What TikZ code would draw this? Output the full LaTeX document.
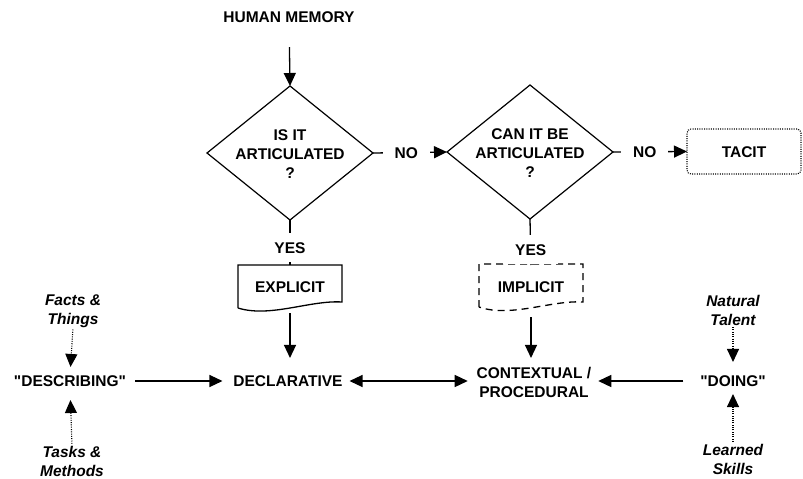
\documentclass[tikz,border=0pt]{standalone}
\usepackage{fontspec}
\setmainfont{Liberation Sans}
\usetikzlibrary{arrows.meta,shapes.geometric,calc}
\begin{document}
\begin{tikzpicture}[x=1pt,y=-1pt,
  every node/.style={font=\fontsize{15.5}{19}\selectfont\bfseries, inner sep=0pt, outer sep=0pt},
  txt/.style={text height=11.1pt, text depth=0pt},
  itl/.style={align=center, font=\fontsize{15.5}{19}\selectfont\bfseries\itshape},
  dec/.style={diamond, draw, line width=1.2pt, minimum width=166pt, minimum height=134pt},
  lbl/.style={fill=white, text height=11.1pt, text depth=0pt, inner xsep=12pt, inner ysep=9pt},
  ln/.style={line width=1.3pt},
  arr/.style={line width=1.3pt, -{Triangle[width=12pt,length=13pt]}},
  darr/.style={line width=1.3pt, {Triangle[width=12pt,length=13pt]}-{Triangle[width=12pt,length=13pt]}},
  dotarr/.style={line width=1.1pt, dash pattern=on 1pt off 1.3pt, -{Triangle[width=12pt,length=13pt]}},
  ]
\useasboundingbox (0,0) rectangle (803,479);

% nodes
\node[txt] (hm) at (289,17) {HUMAN MEMORY};
\node[dec] (d1) at (290,153) {};
\node[align=center] (d1t) at (290,154) {IS IT\\ARTICULATED\\?};
\node[dec] (d2) at (530,152) {};
\node[align=center] (d2t) at (530,153) {CAN IT BE\\ARTICULATED\\?};
\node[txt, draw, line width=1.1pt, dash pattern=on 1pt off 1.3pt, rounded corners=4pt,
      minimum width=114pt, minimum height=45pt] (tacit) at (744,151.5) {TACIT};

\node[txt, minimum width=104pt, minimum height=44pt] (explicit) at (290,287) {EXPLICIT};
\draw[ln] (238,308) -- (238,265) -- (342,265) -- (342,302)
  .. controls (310,300) and (270,318) .. (238,308);
\node[txt, minimum width=104pt, minimum height=44pt] (implicit) at (531,287) {IMPLICIT};
\draw[ln, dash pattern=on 7pt off 5pt] (479,307) -- (479,264) -- (583,264) -- (583,302)
  .. controls (551,300) and (511,318) .. (479,307);

\node[txt] (declar) at (288,381) {DECLARATIVE};
\node[align=center] (context) at (534,382) {CONTEXTUAL /\\PROCEDURAL};
\node[txt] (describing) at (70,381) {\textquotedbl DESCRIBING\textquotedbl};
\node[txt] (doing) at (733,381) {\textquotedbl DOING\textquotedbl};
\node[itl] (facts) at (73,311) {Facts \&\\Things};
\node[itl] (tasks) at (72,461) {Tasks \&\\Methods};
\node[itl] (natural) at (733,310) {Natural\\Talent};
\node[itl] (learned) at (733,459) {Learned\\Skills};

% connectors
\draw[arr, shorten <=24.5pt] (hm) -- (d1.north);
\draw[arr] (d1.east) -- node[lbl, pos=0.45] (no1) {NO} (d2.west);
\draw[arr] (d2.east) -- node[lbl, pos=0.43] (no2) {NO} (tacit.west);
\draw[ln] (d1.south) -- node[lbl, pos=0.62] (yes1) {YES} (explicit.north);
\draw[ln] (d2.south) -- node[lbl, pos=0.667] (yes2) {YES} (implicit.north);
\draw[arr, shorten <=4pt, shorten >=17.5pt] (explicit.south) -- (explicit.south |- declar.north);
\draw[arr, shorten <=8pt, shorten >=17.5pt] (implicit.south) -- (implicit.south |- declar.north);
\draw[arr, shorten <=9pt, shorten >=11pt] (describing.east) -- (declar.west);
\draw[darr, shorten <=7pt, shorten >=9pt] (declar.east) -- (declar.east -| context.west);
\draw[arr, shorten <=17pt, shorten >=7pt] (doing.west) -- (doing.west -| context.east);
\draw[dotarr, shorten <=2pt, shorten >=8.5pt] (facts.south) -- (describing.north);
\draw[dotarr, shorten <=2pt, shorten >=13.5pt] (tasks.north) -- (describing.south);
\draw[dotarr, shorten <=2pt, shorten >=13.5pt] (natural.south) -- (doing.north);
\draw[dotarr, shorten <=2pt, shorten >=7.5pt] (learned.north) -- (doing.south);
\end{tikzpicture}
\end{document}
